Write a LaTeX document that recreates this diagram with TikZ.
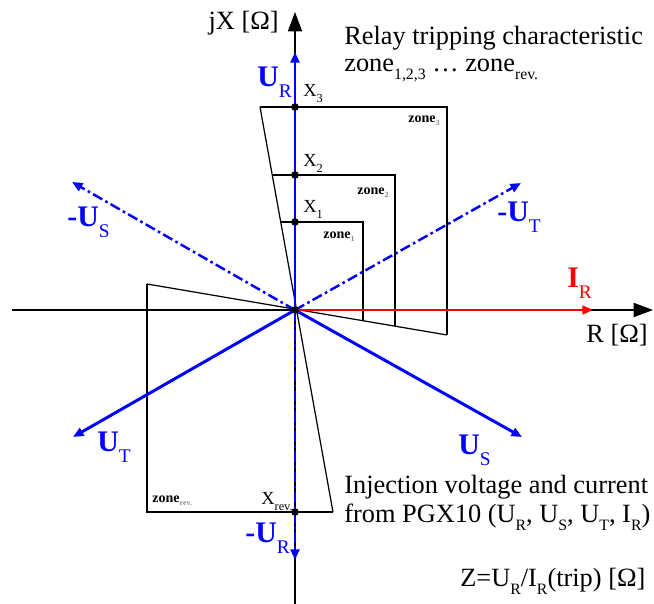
\documentclass[tikz,border=0pt]{standalone}
\usepackage{fontspec}
\setmainfont{Liberation Serif}
\usetikzlibrary{arrows.meta}
\definecolor{phaseblue}{RGB}{0,0,255}
\definecolor{currentred}{RGB}{255,0,0}
\definecolor{zonegray}{RGB}{140,140,140}

% phasor label: bold main part, lowered subscript
\newcommand{\phlab}[2]{{\fontsize{17}{17}\selectfont\bfseries #1}\raisebox{-6pt}{\fontsize{11}{11}\selectfont #2}}
\newcommand{\lowsub}[1]{\raisebox{-4pt}{\fontsize{9}{9}\selectfont #1}}
\newcommand{\zsub}[1]{\raisebox{-1.5pt}{\fontsize{4.5}{5}\selectfont\color{zonegray}#1}}

\tikzset{
  axisline/.style={line width=0.9pt,-{Triangle[length=11pt,width=8pt]}},
  phasor/.style={phaseblue,line width=1.7pt,-{Triangle[length=6pt,width=5pt]}},
  negphasor/.style={phasor,line width=1.4pt,dash pattern=on 6pt off 2pt on 1.5pt off 2pt},
  zoneline/.style={line width=0.7pt},
  vlabel/.style={phaseblue,anchor=base west,inner sep=0pt},
  tlabel/.style={anchor=base west,inner sep=0pt,font=\fontsize{15}{15}\selectfont},
  xlab/.style={anchor=base west,inner sep=0pt,font=\fontsize{10.5}{10.5}\selectfont},
  zlab/.style={anchor=base west,inner sep=0pt,font=\fontsize{8}{8}\selectfont\bfseries}
}

\begin{document}
\begin{tikzpicture}[x=0.02cm,y=-0.02cm]
  \useasboundingbox (0,0) rectangle (654,604);

  % points
  \coordinate (O) at (295,310);
  \coordinate (Xstart) at (12,310);
  \coordinate (Xend) at (653,310);
  \coordinate (Ystart) at (295,604);
  \coordinate (Yend) at (295,12);
  \coordinate (UR) at (295,52);
  \coordinate (US) at (522,437);
  \coordinate (UT) at (73,437);
  \coordinate (mUR) at (295,560);
  \coordinate (mUS) at (72,182);
  \coordinate (mUT) at (521,183);
  \coordinate (IR) at (593,310);

  % zone corners
  \coordinate (Z3a) at (260,107);
  \coordinate (Z3b) at (447,107);
  \coordinate (Z3c) at (447,335);
  \coordinate (Z2a) at (272,175);
  \coordinate (Z2b) at (395,175);
  \coordinate (Z2c) at (395,326);
  \coordinate (Z1a) at (281,222);
  \coordinate (Z1b) at (363,222);
  \coordinate (Z1c) at (363,321);
  \coordinate (Zra) at (147,284);
  \coordinate (Zrb) at (147,512);
  \coordinate (Zrc) at (333,512);
  \coordinate (X3) at (295,107);
  \coordinate (X2) at (295,175);
  \coordinate (X1) at (295,222);
  \coordinate (Xr) at (295,512);

  % zones
  \draw[zoneline] (Z3a) -- (Zrc);
  \draw[zoneline] (Zra) -- (Z3c);
  \draw[zoneline] (Z3a) -- (Z3b) -- (Z3c);
  \draw[zoneline] (Z2a) -- (Z2b) -- (Z2c);
  \draw[zoneline] (Z1a) -- (Z1b) -- (Z1c);
  \draw[zoneline] (Zra) -- (Zrb) -- (Zrc);

  % axes
  \draw[axisline] (Xstart) -- (Xend);
  \draw[axisline] (Ystart) -- (Yend);

  % injected quantities
  \draw[negphasor] (O) -- (mUR);
  \draw[negphasor] (O) -- (mUS);
  \draw[negphasor] (O) -- (mUT);
  \draw[phasor] (O) -- (UR);
  \draw[phasor] (O) -- (US);
  \draw[phasor] (O) -- (UT);
  \draw[currentred,line width=1.2pt,-{Triangle[length=6pt,width=5pt]}] (O) -- (IR);

  \foreach \p in {X3,X2,X1,Xr,O}
    \fill (\p) circle (2.2pt);

  % labels
  \node[tlabel,anchor=base east] (ylab) at (279,30) {jX [Ω]};
  \node[tlabel] (xlabtext) at (586,343) {R [Ω]};
  \node[vlabel] (lUR) at (257,87) {\phlab{U}{R}};
  \node[vlabel] (lmUR) at (245,543) {\phlab{-U}{R}};
  \node[vlabel] (lUS) at (458,455) {\phlab{U}{S}};
  \node[vlabel] (lUT) at (97,452) {\phlab{U}{T}};
  \node[vlabel] (lmUS) at (67,227) {\phlab{-U}{S}};
  \node[vlabel] (lmUT) at (497,222) {\phlab{-U}{T}};
  \node[vlabel,currentred] (lIR) at (567,288) {\phlab{I}{R}};

  \node[xlab] (lX3) at (303,97) {X\raisebox{-3pt}{\fontsize{7}{7}\selectfont 3}};
  \node[xlab] (lX2) at (303,167) {X\raisebox{-3pt}{\fontsize{7}{7}\selectfont 2}};
  \node[xlab] (lX1) at (303,213) {X\raisebox{-3pt}{\fontsize{7}{7}\selectfont 1}};
  \node[xlab,anchor=base east] (lXr) at (293,505) {X\raisebox{-3pt}{\fontsize{7}{7}\selectfont rev.}};

  \node[zlab] (lz3) at (408,123) {zone\zsub{3}};
  \node[zlab] (lz2) at (357,195) {zone\zsub{2}};
  \node[zlab] (lz1) at (323,239) {zone\zsub{1}};
  \node[zlab] (lzr) at (152,503) {zone\zsub{rev.}};

  \node[tlabel] (title) at (344,45) {Relay tripping characteristic};
  \node[tlabel] (zones) at (344,72) {zone\lowsub{1,2,3} \dots\ zone\lowsub{rev.}};
  \node[tlabel] (inj1) at (344,494) {Injection voltage and current};
  \node[tlabel] (inj2) at (344,523) {from PGX10 (U\lowsub{R}, U\lowsub{S}, U\lowsub{T}, I\lowsub{R})};
  \node[tlabel] (zformula) at (460,587) {Z=U\lowsub{R}/I\lowsub{R}(trip) [Ω]};
\end{tikzpicture}
\end{document}
